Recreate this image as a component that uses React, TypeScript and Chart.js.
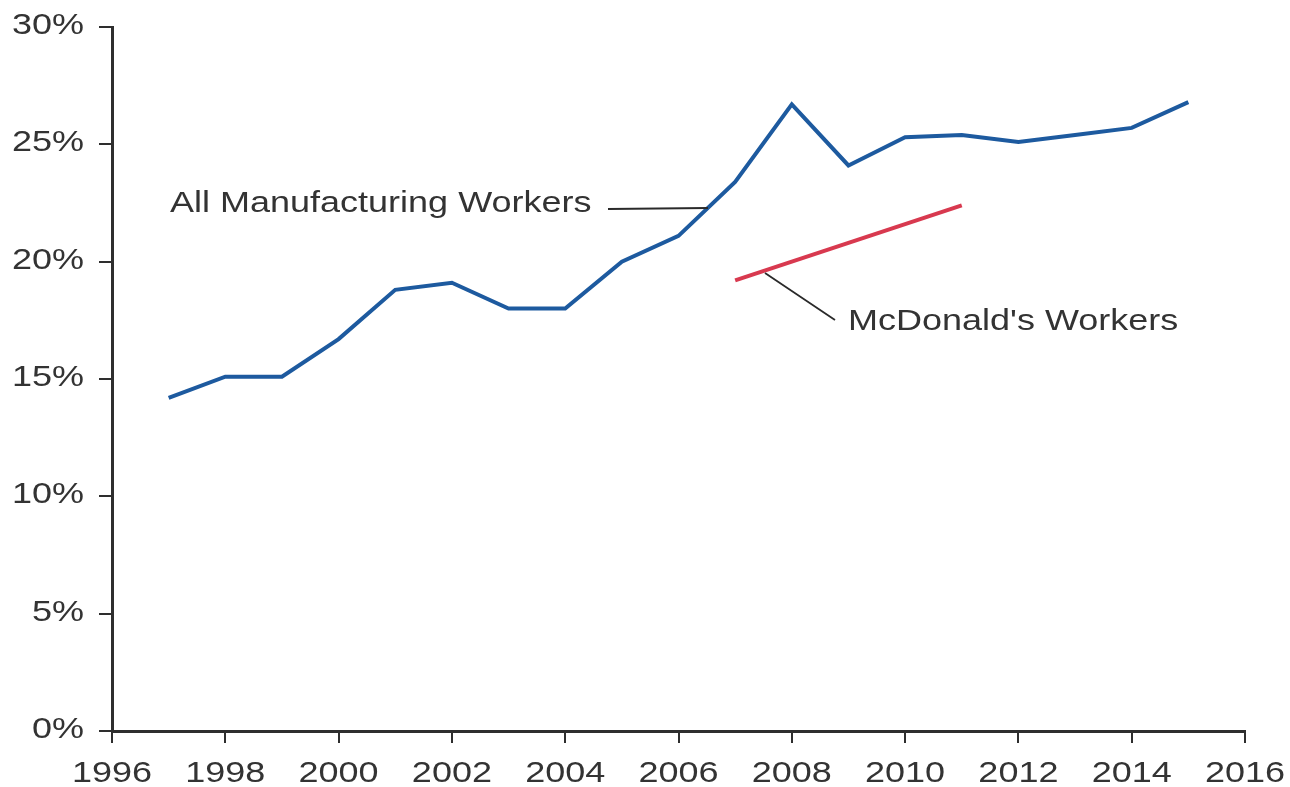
import React, { useEffect, useRef } from "react";
import { Chart, registerables } from "chart.js";

Chart.register(...registerables);

const years = [1997, 1998, 1999, 2000, 2001, 2002, 2003, 2004, 2005, 2006, 2007, 2008, 2009, 2010, 2011, 2012, 2013, 2014, 2015];
const manufacturing = [14.2, 15.1, 15.1, 16.7, 18.8, 19.1, 18.0, 18.0, 20.0, 21.1, 23.4, 26.7, 24.1, 25.3, 25.4, 25.1, 25.4, 25.7, 26.8];
const mcdYears = [2007, 2011];
const mcdonalds = [19.2, 22.4];
const manufacturingLabel = "All Manufacturing Workers";
const mcdLabel = "McDonald's Workers";

const FONT = '"Liberation Sans", Arial, Helvetica, sans-serif';
const TEXT_COLOR = "#333333";
const AXIS_COLOR = "#2e2e2e";
const STRETCH = 1.2;

function drawStretched(ctx: CanvasRenderingContext2D, text: string, x: number, y: number, sx: number) {
  ctx.save();
  ctx.translate(x, y);
  ctx.scale(sx, 1);
  ctx.fillText(text, 0, 0);
  ctx.restore();
}

const annotationPlugin = {
  id: "annotations",
  afterDraw(chart: any) {
    const ctx: CanvasRenderingContext2D = chart.ctx;
    ctx.save();
    ctx.strokeStyle = "#2a2a2a";
    ctx.lineWidth = 1.8;
    ctx.beginPath();
    ctx.moveTo(608, 209);
    ctx.lineTo(708, 208);
    ctx.moveTo(765, 273);
    ctx.lineTo(835, 320);
    ctx.stroke();
    ctx.fillStyle = TEXT_COLOR;
    ctx.font = `30px ${FONT}`;
    ctx.textBaseline = "alphabetic";
    ctx.textAlign = "left";
    drawStretched(ctx, manufacturingLabel, 170, 212, STRETCH);
    drawStretched(ctx, mcdLabel, 848, 330, STRETCH);

    // tick labels, drawn from the library's own scale ticks, horizontally stretched
    const xs = chart.scales.x;
    const ys = chart.scales.y;
    ctx.textAlign = "center";
    xs.ticks.forEach((t: any) => {
      const px = xs.getPixelForValue(t.value);
      drawStretched(ctx, String(t.value), px, 782, STRETCH);
    });
    ctx.textAlign = "right";
    ys.ticks.forEach((t: any) => {
      const py = ys.getPixelForValue(t.value);
      drawStretched(ctx, `${t.value}%`, 84, py + 7, STRETCH);
    });
    ctx.restore();
  },
};

export default function App() {
  const canvasRef = useRef<HTMLCanvasElement | null>(null);

  useEffect(() => {
    document.body.style.margin = "0";
    const canvas = canvasRef.current;
    if (!canvas) return;
    const chart = new Chart(canvas, {
      type: "line",
      data: {
        datasets: [
          {
            label: manufacturingLabel,
            data: years.map((y, i) => ({ x: y, y: manufacturing[i] })),
            borderColor: "#1d5a9f",
            borderWidth: 4,
            pointRadius: 0,
            tension: 0,
            fill: false,
          },
          {
            label: mcdLabel,
            data: mcdYears.map((y, i) => ({ x: y, y: mcdonalds[i] })),
            borderColor: "#d8394f",
            borderWidth: 4,
            pointRadius: 0,
            tension: 0,
            fill: false,
          },
        ],
      },
      options: {
        responsive: false,
        animation: false,
        layout: { padding: { top: 27, right: 45, left: 0, bottom: 0 } },
        plugins: { legend: { display: false }, tooltip: { enabled: false } },
        scales: {
          x: {
            type: "linear",
            min: 1996,
            max: 2016,
            afterFit: (scale: any) => {
              scale.height = 56;
            },
            ticks: {
              stepSize: 2,
              autoSkip: false,
              maxRotation: 0,
              padding: 0,
              color: "rgba(0,0,0,0)",
              font: { family: FONT, size: 1 },
              callback: (v: any) => String(v),
            },
            grid: {
              drawOnChartArea: false,
              drawTicks: true,
              tickLength: 12,
              lineWidth: 2,
              color: AXIS_COLOR,
            },
            border: { display: true, width: 3, color: AXIS_COLOR },
          },
          y: {
            type: "linear",
            min: 0,
            max: 30,
            afterFit: (scale: any) => {
              scale.width = 112;
            },
            ticks: {
              stepSize: 5,
              padding: 0,
              color: "rgba(0,0,0,0)",
              font: { family: FONT, size: 1 },
              callback: (v: any) => `${v}%`,
            },
            grid: {
              drawOnChartArea: false,
              drawTicks: true,
              tickLength: 13,
              lineWidth: 2,
              color: AXIS_COLOR,
            },
            border: { display: true, width: 3, color: AXIS_COLOR },
          },
        },
      },
      plugins: [annotationPlugin],
    });
    return () => chart.destroy();
  }, []);

  return (
    <canvas
      ref={canvasRef}
      width={1290}
      height={787}
      style={{ display: "block", position: "fixed", left: 0, top: 0, background: "#ffffff" }}
    />
  );
}
